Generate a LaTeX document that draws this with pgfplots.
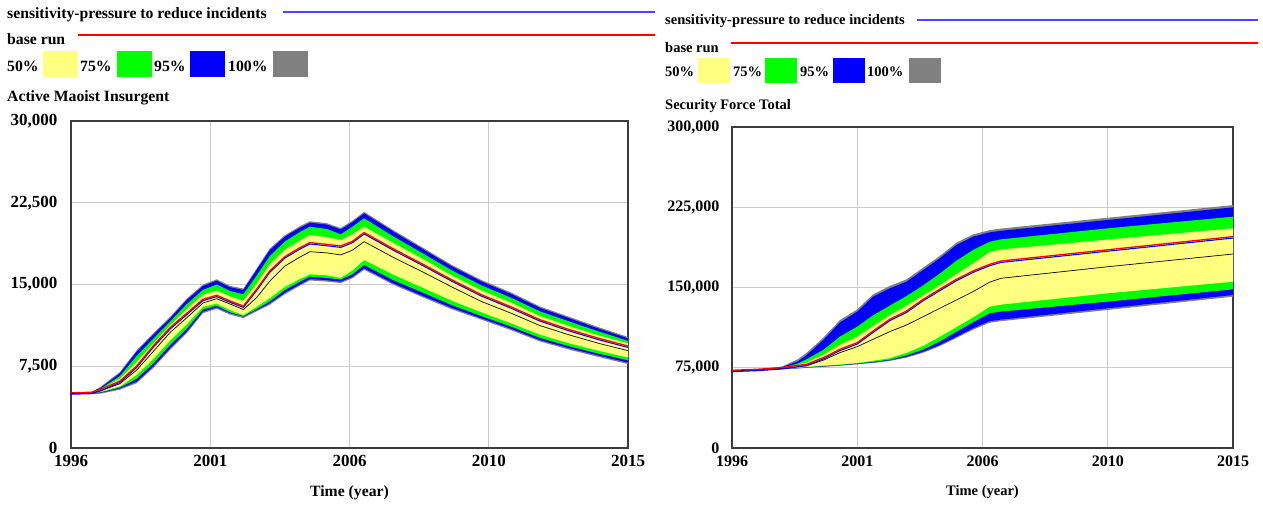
\documentclass[border=0pt]{standalone}
\usepackage{pgfplots}
\pgfplotsset{compat=1.18}
\usepackage{pgfplotstable}
\usepgfplotslibrary{fillbetween}
\usepackage{fontspec}
\setmainfont{Liberation Serif}
\definecolor{cyel}{RGB}{255,255,128}
\definecolor{cgrn}{RGB}{0,255,0}
\definecolor{cblu}{RGB}{0,0,255}
\definecolor{lblu}{RGB}{70,70,255}
\definecolor{cgry}{RGB}{128,128,128}
\definecolor{cred}{RGB}{255,0,0}
\definecolor{gridc}{RGB}{204,204,204}
\definecolor{framec}{RGB}{60,60,60}
\newcommand\lf{\fontsize{15.7}{18}\selectfont\bfseries}
\newcommand\rf{\fontsize{14.5}{17}\selectfont\bfseries}
\newcommand\ltf{\fontsize{17}{19}\selectfont\bfseries}
\newcommand\rtf{\fontsize{16}{18}\selectfont\bfseries}

\pgfplotstableread{
t       red    black  gu     bu     gru    yu     yl     grl    bl     gl
1996.0  5000   5000   5000   5000   5000   5000   5000   5000   5000   5000
1996.7  5050   5050   5150   5100   5080   5060   5020   5000   4990   4950
1997.0  5300   5250   5600   5500   5420   5350   5150   5100   5060   4980
1997.67 6080   5900   6980   6850   6600   6350   5650   5550   5470   5350
1998.24 7460   7150   8970   8840   8450   7900   6700   6350   6080   5950
1998.8  9290   8840   10500  10370  10000  9550   8150   7750   7460   7330
1999.38 10980  10600  12030  11900  11600  11250  9850   9450   9140   9010
1999.95 12300  11950  13710  13580  13200  12750  11350  10950  10670  10540
2000.5  13580  13300  14990  14860  14500  14050  12950  12700  12500  12370
2000.97 13950  13700  15480  15350  15000  14450  13250  13050  12900  12770
2001.43 13420  13200  14870  14740  14400  13900  12650  12450  12360  12230
2001.88 12960  12700  14630  14500  14100  13500  12200  12100  12050  11920
2002.33 14500  13800  16460  16330  15800  15050  12950  12750  12660  12530
2002.78 16180  15300  18290  18160  17600  16850  13750  13450  13270  13140
2003.3  17500  16700  19530  19400  18950  18200  14800  14500  14250  14120
2003.8  18300  17500  20330  20200  19800  19000  15500  15250  15000  14870
2004.15 18780  18010  20800  20670  20300  19540  15930  15720  15500  15370
2004.72 18620  17900  20630  20500  20100  19350  15850  15600  15400  15270
2005.2  18470  17710  20180  20050  19600  19080  15600  15450  15260  15130
2005.6  18900  18150  20850  20720  20300  19600  16300  15950  15700  15570
2006.0  19700  18930  21660  21530  21070  20300  17250  16790  16480  16350
2007.0  18200  17480  19980  19850  19400  18800  15900  15400  15100  14970
2008.0  16800  16150  18380  18250  17850  17350  14700  14250  13950  13820
2009.0  15350  14760  16780  16650  16280  15800  13500  13100  12850  12720
2010.0  14000  13440  15410  15280  14920  14450  12450  12100  11900  11770
2011.0  12900  12380  14280  14150  13800  13350  11450  11150  10950  10820
2012.0  11700  11230  12980  12850  12530  12100  10400  10100  9900   9770
2013.0  10800  10370  12030  11900  11600  11180  9600   9330   9150   9020
2014.0  10000  9600   11080  10950  10690  10320  8920   8650   8480   8350
2015.0  9290   8930   10190  10060  9830   9600   8300   8050   7830   7700
}\insurgent

\pgfplotstableread{
t       red     black   gu      bu      gru     yu      yl      grl     bl      gl
1996.0  72000   72000   72000   72000   72000   72000   72000   72000   72000   72000
1997.0  73000   73000   73300   73200   73100   73050   72950   72900   72850   72800
1997.9  74500   74400   76200   75500   75000   74800   74200   74100   74000   73800
1998.5  76500   76000   83000   81000   79000   77500   75000   74800   74600   74300
1998.83 77600   77000   89000   86900   83000   80000   75800   75500   75200   74900
1999.46 83800   82000   103000  100900  91600   87000   77000   76500   76200   75800
2000.09 91600   89100   119500  117300  104000  96300   78000   77600   77300   76800
2000.75 97800   94700   129600  127400  113400  104000  79500   79000   78700   78200
2001.35 108700  101600  143600  141400  124000  114000  81500   80500   80000   79400
2001.98 119600  108700  151400  149200  133000  124000  84000   82500   82000   81300
2002.62 127400  115000  157600  155400  142000  133000  89000   86500   85300   84500
2003.25 138300  122700  168600  166400  152000  142500  95500   92000   90000   89000
2003.88 147700  130600  179500  177300  163000  152000  104000  99500   96300   95200
2004.51 157000  138300  191800  189700  175000  162500  113000  108700  104000  102800
2005.14 164800  146100  199600  197500  185000  172500  122000  117500  111900  110600
2005.77 171000  155000  203600  201500  192800  183000  132000  125900  118500  117100
2006.2  174100  158600  205100  203000  195000  185500  134000  127500  120000  118500
2010.25 184600  169400  215200  213100  205300  194800  144600  136800  130600  129000
2015.0  196900  181300  227000  224900  216200  205300  155400  148300  143000  141400
}\security

\pgfplotsset{
  vensim/.style={
    anchor=south west, scale only axis,
    xmin=1996, xmax=2015, ymin=0,
    xtick={1996,2000.75,2005.5,2010.25,2015},
    xticklabels={1996,2001,2006,2010,2015},
    scaled y ticks=false, scaled x ticks=false,
    grid=major, major grid style={draw=gridc, line width=1.2pt},
    major tick length=0pt,
    axis line style={draw=framec, line width=1.4pt},
  }
}

\begin{document}
\begin{tikzpicture}[x=1pt,y=1pt]

% ---------------- left panel ----------------
\begin{axis}[vensim,
  at={(71pt,59pt)}, width=557pt, height=327pt, ymax=30000,
  ytick={0,7500,15000,22500,30000},
  yticklabels={0,{7,500},{15,000},{22,500},{30,000}},
  ticklabel style={font=\ltf},
  yticklabel style={xshift=-10pt},
  xticklabel style={yshift=-4pt},
  xlabel={Time (year)},
  xlabel style={font=\lf, at={(axis description cs:0.5,-0.147)}, anchor=base},
]
\addplot[draw=none, name path=Lgu] table[x=t,y=gu]{\insurgent};
\addplot[draw=none, name path=Lgl] table[x=t,y=gl]{\insurgent};
\addplot[draw=none, name path=Lbu] table[x=t,y=bu]{\insurgent};
\addplot[draw=none, name path=Lbl] table[x=t,y=bl]{\insurgent};
\addplot[draw=none, name path=Lgru] table[x=t,y=gru]{\insurgent};
\addplot[draw=none, name path=Lgrl] table[x=t,y=grl]{\insurgent};
\addplot[draw=none, name path=Lyu] table[x=t,y=yu]{\insurgent};
\addplot[draw=none, name path=Lyl] table[x=t,y=yl]{\insurgent};
\addplot[fill=cgry, draw=none] fill between[of=Lgu and Lgl];
\addplot[fill=cblu, draw=none] fill between[of=Lbu and Lbl];
\addplot[fill=cgrn, draw=none] fill between[of=Lgru and Lgrl];
\addplot[fill=cyel, draw=none] fill between[of=Lyu and Lyl];
\addplot[black, line width=0.7pt] table[x=t,y=black]{\insurgent};
\addplot[cblu, line width=1.1pt, yshift=-0.7pt] table[x=t,y=red]{\insurgent};
\addplot[cred, line width=1.3pt, yshift=0.7pt] table[x=t,y=red]{\insurgent};
\end{axis}

% ---------------- right panel ----------------
\begin{axis}[vensim,
  at={(732pt,59pt)}, width=501pt, height=321pt, ymax=300000,
  ytick={0,75000,150000,225000,300000},
  yticklabels={0,{75,000},{150,000},{225,000},{300,000}},
  ticklabel style={font=\rtf},
  yticklabel style={xshift=-9pt},
  xticklabel style={yshift=-4pt},
  xlabel={Time (year)},
  xlabel style={font=\rf, at={(axis description cs:0.5,-0.1495)}, anchor=base},
]
\addplot[draw=none, name path=Rgu] table[x=t,y=gu]{\security};
\addplot[draw=none, name path=Rgl] table[x=t,y=gl]{\security};
\addplot[draw=none, name path=Rbu] table[x=t,y=bu]{\security};
\addplot[draw=none, name path=Rbl] table[x=t,y=bl]{\security};
\addplot[draw=none, name path=Rgru] table[x=t,y=gru]{\security};
\addplot[draw=none, name path=Rgrl] table[x=t,y=grl]{\security};
\addplot[draw=none, name path=Ryu] table[x=t,y=yu]{\security};
\addplot[draw=none, name path=Ryl] table[x=t,y=yl]{\security};
\addplot[fill=cgry, draw=none] fill between[of=Rgu and Rgl];
\addplot[fill=cblu, draw=none] fill between[of=Rbu and Rbl];
\addplot[fill=cgrn, draw=none] fill between[of=Rgru and Rgrl];
\addplot[fill=cyel, draw=none] fill between[of=Ryu and Ryl];
\addplot[black, line width=0.7pt] table[x=t,y=black]{\security};
\addplot[cblu, line width=1.1pt, yshift=-0.7pt] table[x=t,y=red]{\security};
\addplot[cred, line width=1.3pt, yshift=0.7pt] table[x=t,y=red]{\security};
\end{axis}

% ---------------- headers / legends ----------------
\begin{scope}[every node/.style={inner sep=0pt, anchor=base west}]
% left
\node[font=\lf] at (7pt,488pt) {sensitivity-pressure to reduce incidents};
\draw[draw=lblu, line width=1.4pt] (283pt,495pt) -- (655pt,495pt);
\node[font=\lf] at (7pt,462pt) {base run};
\draw[draw=cred, line width=1.8pt] (78pt,472pt) -- (655pt,472pt);
\node[font=\lf] at (7pt,435pt) {50\%};
\fill[cyel] (43pt,430pt) rectangle (78pt,456pt);
\node[font=\lf] at (80pt,435pt) {75\%};
\fill[cgrn] (117pt,430pt) rectangle (152pt,456pt);
\node[font=\lf] at (154pt,435pt) {95\%};
\fill[cblu] (190pt,430pt) rectangle (225pt,456pt);
\node[font=\lf] at (228pt,435pt) {100\%};
\fill[cgry] (273pt,430pt) rectangle (308pt,456pt);
\node[font=\lf] at (7pt,405pt) {Active Maoist Insurgent};
% right
\node[font=\rf] at (665pt,482pt) {sensitivity-pressure to reduce incidents};
\draw[draw=lblu, line width=1.4pt] (917pt,487pt) -- (1258pt,487pt);
\node[font=\rf] at (665pt,454pt) {base run};
\draw[draw=cred, line width=1.8pt] (731pt,464pt) -- (1258pt,464pt);
\node[font=\rf] at (665pt,430pt) {50\%};
\fill[cyel] (698pt,424pt) rectangle (730pt,449pt);
\node[font=\rf] at (733pt,430pt) {75\%};
\fill[cgrn] (765pt,424pt) rectangle (797pt,449pt);
\node[font=\rf] at (800pt,430pt) {95\%};
\fill[cblu] (833pt,424pt) rectangle (865pt,449pt);
\node[font=\rf] at (867pt,430pt) {100\%};
\fill[cgry] (909pt,424pt) rectangle (941pt,449pt);
\node[font=\rf] at (665pt,397pt) {Security Force Total};
\end{scope}
\path (0pt,0pt) rectangle (1263pt,507pt);
\end{tikzpicture}
\end{document}
